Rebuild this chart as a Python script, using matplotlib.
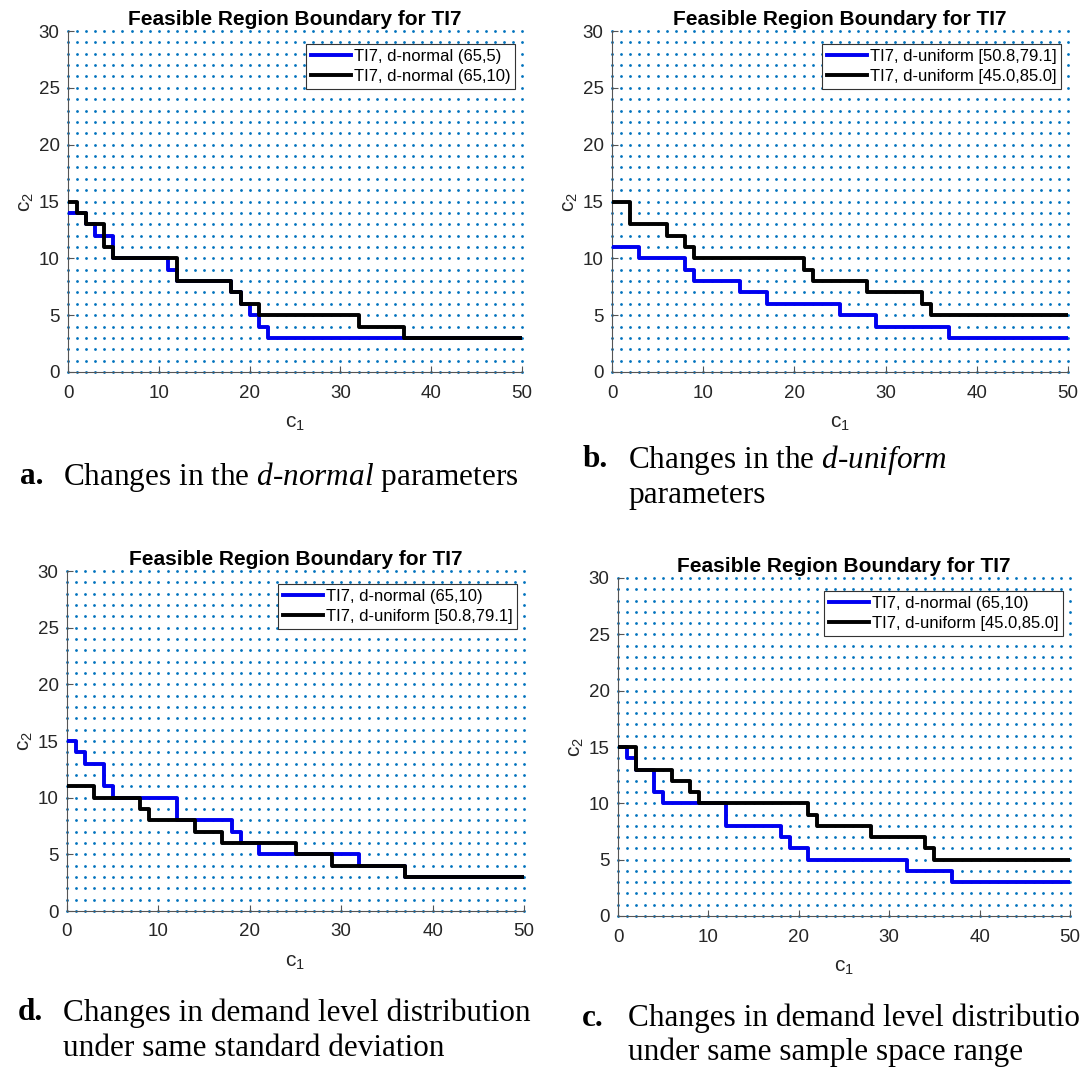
import numpy as np
import matplotlib.pyplot as plt

plt.rcParams['font.family'] = ['Liberation Sans', 'DejaVu Sans']
plt.rcParams['mathtext.fontset'] = 'custom'
plt.rcParams['mathtext.rm'] = 'Liberation Serif'
plt.rcParams['mathtext.it'] = 'Liberation Serif:italic'

# boundary steps: c1 where each step starts, c2 level of the step
norm5_c1 = [0, 2, 3, 5, 11, 12, 18, 19, 20, 21, 22, 50]
norm5_c2 = [14, 13, 12, 10, 9, 8, 7, 6, 5, 4, 3, 3]
norm10_c1 = [0, 1, 2, 4, 5, 12, 18, 19, 21, 32, 37, 50]
norm10_c2 = [15, 14, 13, 11, 10, 8, 7, 6, 5, 4, 3, 3]
unif1_c1 = [0, 3, 8, 9, 14, 17, 25, 29, 37, 50]
unif1_c2 = [11, 10, 9, 8, 7, 6, 5, 4, 3, 3]
unif2_c1 = [0, 2, 6, 8, 9, 21, 22, 28, 34, 35, 50]
unif2_c2 = [15, 13, 12, 11, 10, 9, 8, 7, 6, 5, 5]

lab_n5 = 'TI7, d-normal (65,5)'
lab_n10 = 'TI7, d-normal (65,10)'
lab_u1 = 'TI7, d-uniform [50.8,79.1]'
lab_u2 = 'TI7, d-uniform [45.0,85.0]'

xticks = [0, 10, 20, 30, 40, 50]
yticks = [0, 5, 10, 15, 20, 25, 30]

W, H = 1088, 1068


def rect(l, t, r, b):
    return [l / W, 1 - b / H, (r - l) / W, (b - t) / H]


fig = plt.figure(figsize=(W / 100, H / 100), dpi=100)

# (axes box in px, blue series, black series)
panels = [
    ((68, 31, 522, 372), (norm5_c1, norm5_c2, lab_n5), (norm10_c1, norm10_c2, lab_n10)),
    ((612, 31, 1068, 372), (unif1_c1, unif1_c2, lab_u1), (unif2_c1, unif2_c2, lab_u2)),
    ((67, 571, 524, 911), (norm10_c1, norm10_c2, lab_n10), (unif1_c1, unif1_c2, lab_u1)),
    ((618, 578, 1070, 916), (norm10_c1, norm10_c2, lab_n10), (unif2_c1, unif2_c2, lab_u2)),
]

gx, gy = np.meshgrid(np.arange(0, 51), np.arange(0, 31))
axcol = '#262626'

for box, blue, black in panels:
    ax = fig.add_axes(rect(*box))
    ax.plot(gx.ravel(), gy.ravel(), 'o', color='#0072BD', ms=2.0, mew=0,
            clip_on=False, zorder=1)
    ax.step(blue[0], blue[1], where='post', color='#0000F0', lw=2.8,
            label=blue[2], zorder=3)
    ax.step(black[0], black[1], where='post', color='black', lw=2.8,
            label=black[2], zorder=4)
    ax.set_xlim(0, 50)
    ax.set_ylim(0, 30)
    ax.set_xticks(xticks)
    ax.set_yticks(yticks)
    ax.spines['top'].set_visible(False)
    ax.spines['right'].set_visible(False)
    for s in ['left', 'bottom']:
        ax.spines[s].set_color('#555555')
        ax.spines[s].set_linewidth(0.8)
    ax.tick_params(direction='in', length=4, labelsize=13.5,
                   colors='#555555', labelcolor=axcol)
    ax.tick_params(axis='x', pad=9)
    ax.tick_params(axis='y', pad=6)
    ax.set_xlabel(r'$\mathregular{c_1}$', fontsize=15, color=axcol, labelpad=9)
    ax.set_ylabel(r'$\mathregular{c_2}$', fontsize=15, color=axcol, labelpad=2)
    ax.set_title('Feasible Region Boundary for TI7', fontsize=15,
                 fontweight='bold', pad=4)
    leg = ax.legend(loc='upper right', bbox_to_anchor=(0.985, 0.963),
                    fontsize=12, fancybox=False, framealpha=1,
                    edgecolor='#333333', handlelength=2.4, handletextpad=0.15,
                    borderpad=0.3, labelspacing=0.3, borderaxespad=0)
    leg.get_frame().set_linewidth(0.8)

serif = ['Liberation Serif', 'DejaVu Serif']
cap = dict(fontsize=22.5, family=serif, va='center', color='black')


def caption(x_lab, x_txt, lab, lines):
    fig.text(x_lab / W, 1 - lines[0][1] / H, lab, fontweight='bold', **cap)
    for txt, y in lines:
        fig.text(x_txt / W, 1 - y / H, txt, **cap)


caption(20, 63, 'a.', [(r'Changes in the $\mathit{d}$-$\mathit{normal}$ parameters', 477)])
caption(583, 628, 'b.', [(r'Changes in the $\mathit{d}$-$\mathit{uniform}$', 460),
                         ('parameters', 496)])
caption(18, 63, 'd.', [('Changes in demand level distribution', 1013),
                       ('under same standard deviation', 1048)])
# the source image cuts this caption at the right edge
caption(582, 628, 'c.', [('Changes in demand level distributio', 1018),
                         ('under same sample space range', 1052)])

fig.savefig('out.png', dpi=100)
